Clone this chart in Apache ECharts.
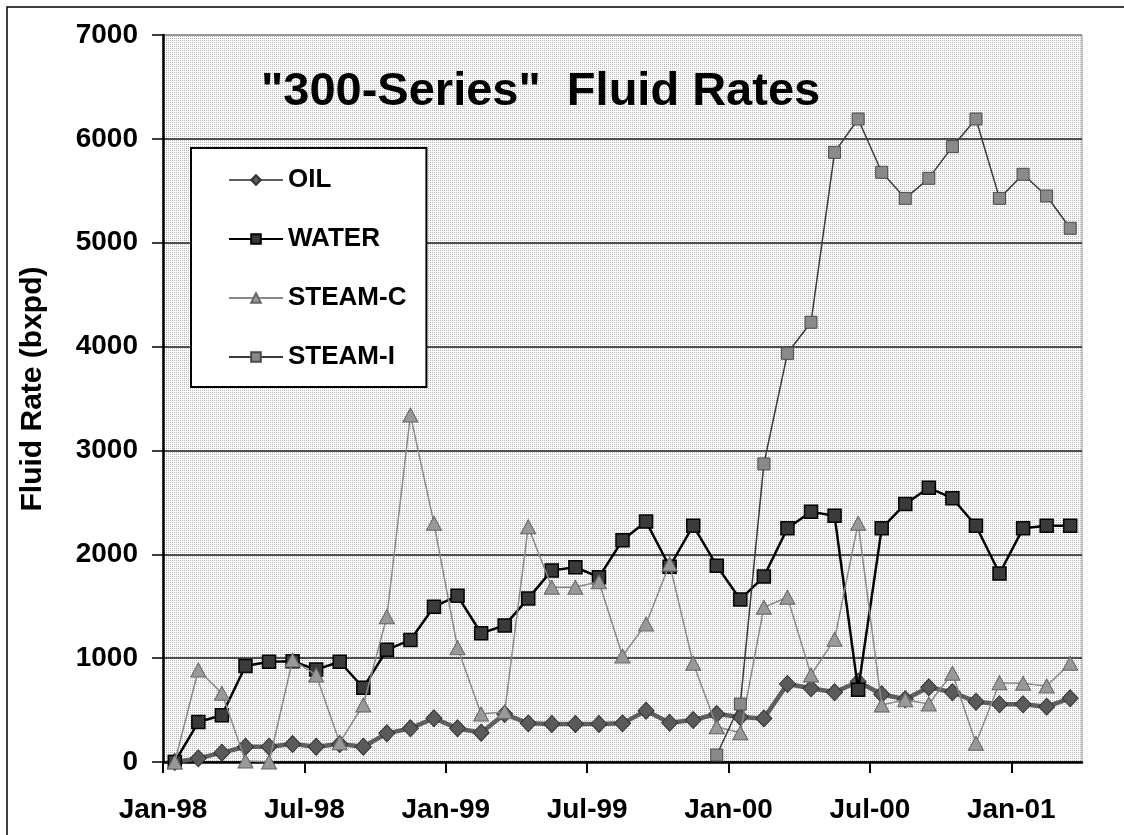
<!DOCTYPE html>
<html>
<head>
<meta charset="utf-8">
<script src="https://cdn.jsdelivr.net/npm/echarts@6/dist/echarts.min.js"></script>
<style>
html,body{margin:0;padding:0;background:#fff;}
#chart{width:1124px;height:835px;}
</style>
</head>
<body>
<div id="chart"></div>
<script>
const months = ['Jan-98','Feb-98','Mar-98','Apr-98','May-98','Jun-98','Jul-98','Aug-98','Sep-98','Oct-98','Nov-98','Dec-98',
  'Jan-99','Feb-99','Mar-99','Apr-99','May-99','Jun-99','Jul-99','Aug-99','Sep-99','Oct-99','Nov-99','Dec-99',
  'Jan-00','Feb-00','Mar-00','Apr-00','May-00','Jun-00','Jul-00','Aug-00','Sep-00','Oct-00','Nov-00','Dec-00',
  'Jan-01','Feb-01','Mar-01'];
const tickLabels = ['Jan-98','Jul-98','Jan-99','Jul-99','Jan-00','Jul-00','Jan-01'];
const yTicks = [0,1000,2000,3000,4000,5000,6000,7000];

const oil = [0,35,90,147,147,173,147,173,147,276,324,421,324,282,462,372,366,366,366,372,494,378,404,462,433,420,751,710,671,773,652,604,719,671,581,556,556,533,613];
const water = [0,385,450,925,965,970,890,965,715,1080,1175,1495,1600,1240,1315,1575,1845,1875,1780,2135,2315,1880,2275,1890,1565,1785,2250,2410,2370,695,2250,2485,2640,2540,2275,1815,2250,2275,2275];
const steamC = [0,886,661,10,0,982,838,186,549,1399,3341,2298,1100,462,484,2266,1682,1682,1736,1021,1329,1906,950,340,282,1490,1586,838,1181,2298,549,600,558,854,180,764,758,732,950];
const steamI = [null,null,null,null,null,null,null,null,null,null,null,null,null,null,null,null,null,null,null,null,null,null,null,
  67,558,2870,3935,4234,5870,6191,5678,5427,5620,5925,6191,5427,5659,5450,5139];

function toPts(arr){ return months.map((m,i)=>[i+0.5, arr[i]]); }

// halftone background pattern
const pc = document.createElement('canvas');
pc.width = 2; pc.height = 2;
const pctx = pc.getContext('2d');
pctx.fillStyle = '#ffffff'; pctx.fillRect(0,0,2,2);
pctx.fillStyle = '#b4b4b4'; pctx.fillRect(0,0,1,1);

const FONT = '"Liberation Sans", Arial, sans-serif';
const chart = echarts.init(document.getElementById('chart'), null, {renderer:'canvas'});
chart.setOption({
  animation:false,
  backgroundColor:'#ffffff',
  title:{
    text:'"300-Series"  Fluid Rates',
    left:256, top:64,
    textStyle:{fontFamily:FONT, fontWeight:'bold', fontSize:47, color:'#000'}
  },
  grid:{left:163, right:42, top:35, bottom:73, show:true,
    backgroundColor:{image:pc, repeat:'repeat'},
    borderColor:'#8a8a8a', borderWidth:1},
  legend:{
    orient:'vertical', left:191, top:148,
    padding:[19,20,17,37], itemGap:33, itemWidth:54, itemHeight:12,
    backgroundColor:'#ffffff', borderColor:'#000', borderWidth:2,
    textStyle:{fontFamily:FONT, fontWeight:'bold', fontSize:26, color:'#000'},
    data:['OIL','WATER','STEAM-C','STEAM-I']
  },
  xAxis:{
    type:'value', min:0, max:39, interval:6,
    axisLine:{show:true, onZero:false, lineStyle:{color:'#000', width:2.5}},
    axisTick:{show:true, length:11, inside:false, lineStyle:{color:'#000', width:2}},
    splitLine:{show:false},
    axisLabel:{margin:34, fontFamily:FONT, fontWeight:'bold', fontSize:28, color:'#000',
      formatter:function(v){ const k = Math.round(v/6); return (v % 6 === 0 && tickLabels[k]) ? tickLabels[k] : ''; },
      showMaxLabel:false}
  },
  yAxis:{
    type:'value', min:0, max:7000, interval:1000,
    axisLine:{show:true, lineStyle:{color:'#000', width:2.5}},
    axisTick:{show:true, length:11, lineStyle:{color:'#000', width:1.5}},
    splitLine:{show:true, lineStyle:{color:['#1a1a1a','#1a1a1a','#1a1a1a','#1a1a1a','#1a1a1a','#1a1a1a','#1a1a1a','#8a8a8a'], width:1.5}},
    axisLabel:{margin:25, fontFamily:FONT, fontWeight:'bold', fontSize:28, color:'#000',
      formatter:function(v){ return yTicks.indexOf(v) >= 0 ? String(v) : ''; }}
  },
  graphic:[
    {type:'text', x:33, y:389, rotation:Math.PI/2,
      style:{text:'Fluid Rate (bxpd)', font:'bold 30px ' + FONT, fill:'#000', textAlign:'center', textVerticalAlign:'middle'}},
    {type:'rect', shape:{x:7, y:7, width:1140, height:860}, style:{fill:'none', stroke:'#000', lineWidth:1.5}, z:-1}
  ],
  series:[
    {name:'OIL', type:'line', data:toPts(oil), symbol:'diamond', symbolSize:[16,17],
      lineStyle:{color:'#5e5e5e', width:4.5}, itemStyle:{color:'#5a5a5a', borderColor:'#333', borderWidth:1}, z:2},
    {name:'WATER', type:'line', data:toPts(water), symbol:'rect', symbolSize:13,
      lineStyle:{color:'#000', width:2.5}, itemStyle:{color:'#3a3a3a', borderColor:'#000', borderWidth:1.5}, z:3},
    {name:'STEAM-C', type:'line', data:toPts(steamC), symbol:'triangle', symbolSize:[15,14],
      lineStyle:{color:'#8a8a8a', width:1.5}, itemStyle:{color:'#999', borderColor:'#666', borderWidth:1}, z:4},
    {name:'STEAM-I', type:'line', data:toPts(steamI), symbol:'rect', symbolSize:12, connectNulls:false,
      lineStyle:{color:'#3a3a3a', width:1.5}, itemStyle:{color:'#8a8a8a', borderColor:'#4a4a4a', borderWidth:1}, z:5}
  ]
});
</script>
</body>
</html>
